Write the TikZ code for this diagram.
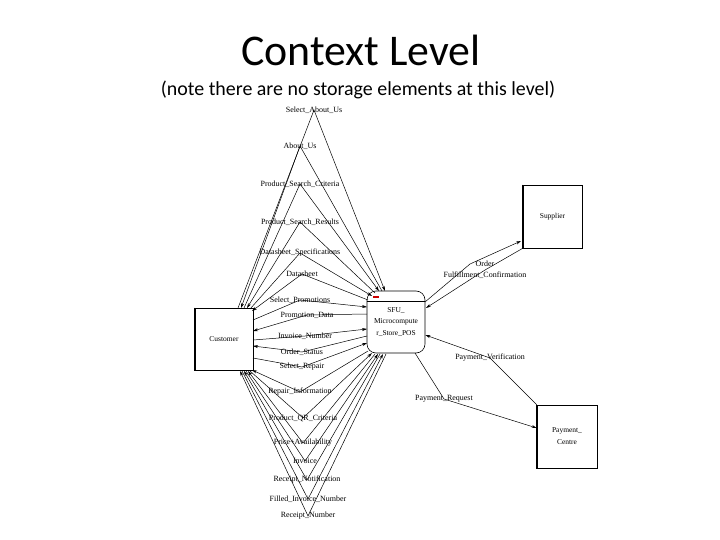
\documentclass[tikz,border=0pt]{standalone}
\usepackage{fontspec}
\setmainfont{Liberation Serif}
\newfontfamily\titlefont{Carlito}
\usetikzlibrary{arrows.meta}
\begin{document}
\begin{tikzpicture}[x=1bp,y=-1bp,
  lbl/.style={font=\fontsize{8}{9}\selectfont,inner sep=0.5pt},
  flow/.style={draw=black,line width=0.5pt,-{Stealth[length=5pt,width=3pt]}},
  ent/.style={draw,line width=0.6pt,minimum width=58bp,minimum height=62bp,font=\fontsize{7.5}{8}\selectfont,align=center}]
\useasboundingbox (0,0) rectangle (720,540);
\node[font=\titlefont\fontsize{44}{46}\selectfont] (title) at (361,50) {Context Level};
\node[font=\titlefont\fontsize{20}{22}\selectfont] (sub) at (358,90) {(note there are no storage elements at this level)};
% entities
\node[ent] (cust) at (224,339) {Customer};
\draw[line width=1.5pt] (cust.north west) -- (cust.south west) -- (cust.south east);
\node[ent,minimum width=59bp,minimum height=63bp] (sup) at (552.5,216.5) {Supplier};
\draw[line width=1.5pt] (sup.north west) -- (sup.south west) -- (sup.south east);
\node[ent,minimum width=60bp,minimum height=63bp] (pay) at (567,436.5) {Payment\_\\[4pt]Centre};
\draw[line width=1.5pt] (pay.north west) -- (pay.south west) -- (pay.south east);
\node[draw,rounded corners=9bp,minimum width=58bp,minimum height=62bp,line width=0.6pt,
  font=\fontsize{7.5}{8}\selectfont,align=center] (sfu) at (396,322) {SFU\_\\[4pt]Microcompute\\[4pt]r\_Store\_POS};
\draw (sfu.north west |- 0,301) -- (sfu.north east |- 0,301);
\fill[red!80!black] (373,295.5) rectangle (379,297.5);
% flows: label/x/y/cx/cy/sx/sy/direction (1 = to SFU)
\foreach \t/\lx/\ly/\cx/\cy/\sx/\sy/\d [count=\i] in {
  Select\_About\_Us/314/110/238/308/385/291/1,
  About\_Us/300/146/241/308/382/291/0,
  Product\_Search\_Criteria/300/184/244/308/379/291/1,
  Product\_Search\_Results/300/222/247/308/375/293/0,
  Datasheet\_Specifications/300/253/250/309/372/296/1,
  Datasheet/302/274/252/311/368/300/0,
  Select\_Promotions/300/300/253/320/367/307/1,
  Promotion\_Data/307/315/253/331/367/314/0,
  Invoice\_Number/305/336/253/340/367/329/1,
  Order\_Status/302/352/253/346/367/336/0,
  Select\_Repair/302/367/253/358/367/343/1,
  Repair\_Information/300/392/252/370/368/351/0,
  Product\_QR\_Criteria/303/418/250/371/372/353/1,
  Price+Availability/303/443/248/371/375/354/0,
  Invoice/305/461/246/371/378/354/1,
  Receipt\_Notification/307/480/244/371/380/354/0,
  Filled\_Invoice\_Number/308/499/242/371/383/354/1,
  Receipt\_Number/308/516/240/371/386/354/0}
{
  \coordinate (c\i) at (\cx,\cy);
  \coordinate (s\i) at (\sx,\sy);
  \node[lbl] (l\i) at (\lx,\ly) {\t};
  \ifnum\d=1
    \draw[flow] (c\i) -- (l\i.center) -- (s\i);
  \else
    \draw[flow] (s\i) -- (l\i.center) -- (c\i);
  \fi
}
% supplier / payment flows
\node[lbl,align=center] (ofc) at (485,270) {Order\\[2pt]Fulfillment\_Confirmation};
\coordinate (a1) at (425,302);
\coordinate (a2) at (521,241);
\coordinate (a3) at (426,308);
\draw[flow] (a1) -- (470,264) -- (a2);
\draw[flow] (sup.south west) -- (ofc.center) -- (a3);
\node[lbl] (pv) at (490,358) {Payment\_Verification};
\draw[flow] (pay.north west) -- (pv.center) -- (sfu.east |- 0,335);
\node[lbl] (pr) at (444,399) {Payment\_Request};
\draw[flow] (415,353) -- (pr.center) -- (pay.west |- 0,428);
\end{tikzpicture}
\end{document}
